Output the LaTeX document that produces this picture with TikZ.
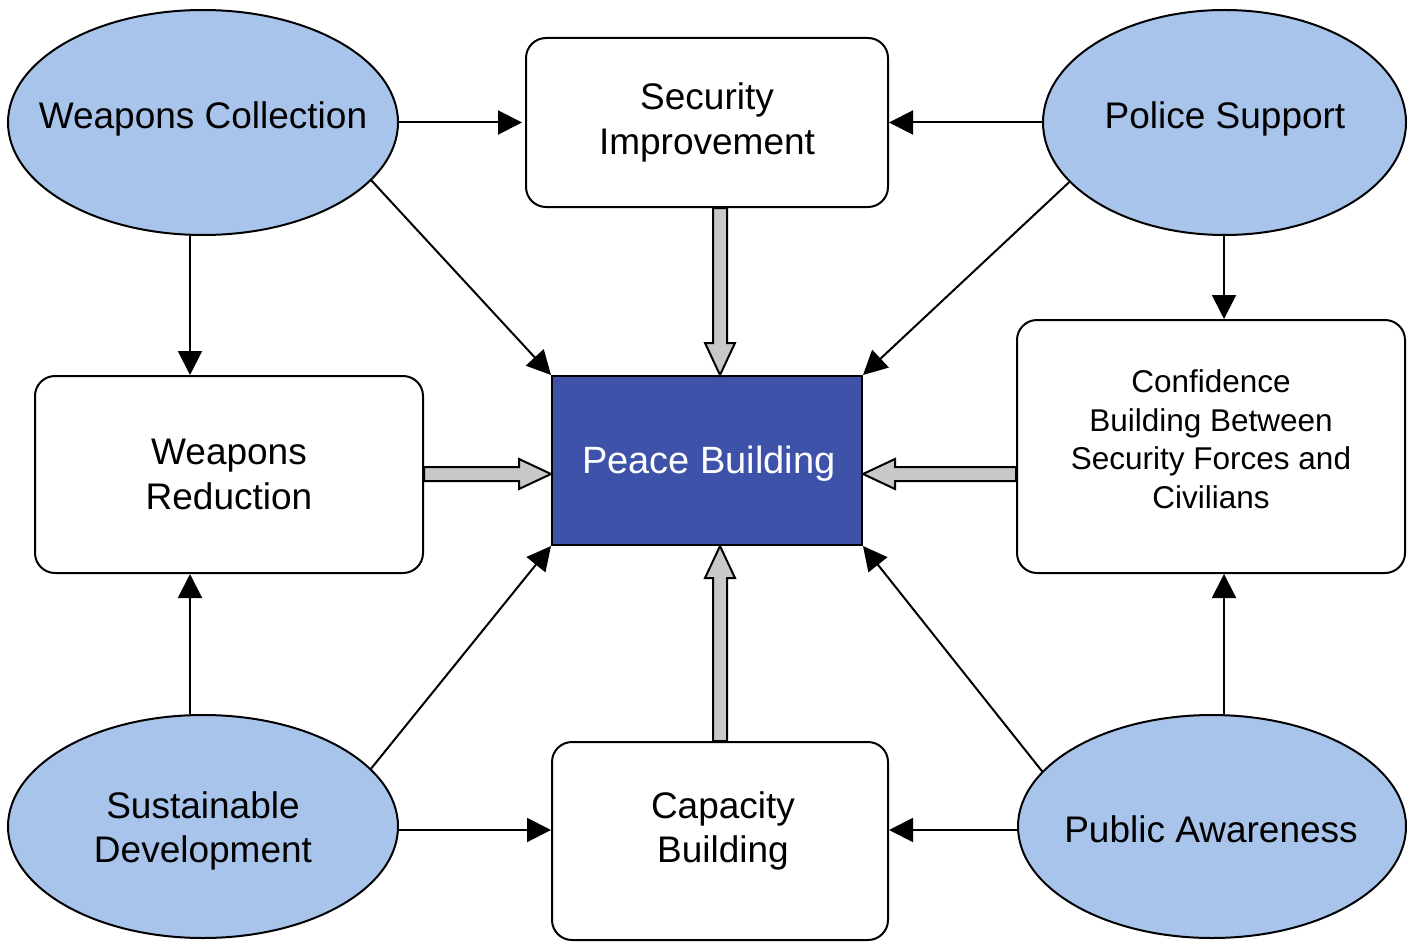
\documentclass[tikz,border=0pt]{standalone}
\usepackage{fontspec}
\setmainfont{Liberation Sans}
\usetikzlibrary{arrows.meta,shapes.geometric,calc}
\definecolor{ellblue}{RGB}{169,196,235}
\definecolor{pbblue}{RGB}{63,82,170}
\definecolor{fatgray}{RGB}{200,200,200}
\newcommand\fatarrow[2]{%
  \path let \p1=(#1), \p2=(#2) in
    \pgfextra{\pgfmathsetmacro\tmpL{veclen(\x2-\x1,\y2-\y1)}%
      \pgfmathsetmacro\tmpA{atan2(\y2-\y1,\x2-\x1)}%
      \xdef\fatlen{\tmpL}\xdef\fatang{\tmpA}};
  \draw[fatarr, shift={(#1)}, rotate=\fatang]
    (0,-7) -- ({\fatlen-32},-7) -- ({\fatlen-32},-15) -- ({\fatlen},0)
    -- ({\fatlen-32},15) -- ({\fatlen-32},7) -- (0,7) -- cycle;}
\tikzset{
  ell/.style={ellipse, draw, line width=2pt, fill=ellblue, inner sep=-60pt, align=center},
  box/.style={rectangle, rounded corners=20pt, draw, line width=2pt, fill=white, align=center, inner sep=0pt},
  arr/.style={line width=2pt, -{Triangle[length=24pt,width=24pt]}},
  fatarr/.style={draw, line width=2pt, fill=fatgray, line join=miter},
  big/.style={font=\fontsize{37}{44.5}\selectfont},
  small/.style={font=\fontsize{31.5}{38.5}\selectfont},
  txt/.style={align=center, inner sep=0pt}
}
\begin{document}
\begin{tikzpicture}[x=1pt,y=-1pt]
\useasboundingbox (0,0) rectangle (1415,944);
% helper coordinates
\coordinate (x190) at (190,0);
\coordinate (x720) at (720,0);
\coordinate (x1224) at (1224,0);
\coordinate (y474) at (0,474);
\coordinate (y830) at (0,830);
% nodes
\node[ell, minimum width=390pt, minimum height=225pt] (WC) at (203,122.5) {};
\node[txt, big] (WCt) at (203,119) {Weapons Collection};
\node[box, big, minimum width=362pt, minimum height=169pt] (SI) at (707,122.5) {Security\\Improvement};
\node[ell, minimum width=363pt, minimum height=225pt] (PS) at (1224.5,122.5) {};
\node[txt, big] (PSt) at (1225,119) {Police Support};
\node[box, big, minimum width=388pt, minimum height=197pt] (WR) at (229,474.5) {Weapons\\Reduction};
\node[rectangle, draw, line width=2pt, fill=pbblue,
      minimum width=310pt, minimum height=169pt] (PB) at (707,460.5) {};
\node[txt, text=white, font=\fontsize{38}{46}\selectfont] (PBt) at (709,464) {Peace Building};
\node[box, minimum width=388pt, minimum height=253pt] (CF) at (1211,446.5) {};
\node[txt, small] (CFt) at (1211,439) {Confidence\\Building Between\\Security Forces and\\Civilians};
\node[ell, minimum width=390pt, minimum height=223pt] (SD) at (203,826.5) {};
\node[txt, big] (SDt) at (203,831) {Sustainable\\Development};
\node[box, minimum width=336pt, minimum height=198pt] (CB) at (720,841) {};
\node[txt, big] (CBt) at (723,831) {Capacity\\Building};
\node[ell, minimum width=388pt, minimum height=223pt] (PA) at (1212,826.5) {};
\node[txt, big] (PAt) at (1211,829) {Public Awareness};
% thin arrows
\draw[arr, shorten >=3pt] (WC.east) -- (SI.west);
\draw[arr] (PS.west) -- (SI.east);
\draw[arr] (WC.south -| x190) -- (WR.north -| x190);
\draw[arr] (PS.south -| x1224) -- (CF.north -| x1224);
\draw[arr] (SD.north -| x190) -- (WR.south -| x190);
\draw[arr] (PA.north -| x1224) -- (CF.south -| x1224);
\draw[arr] (SD.east |- y830) -- (CB.west |- y830);
\draw[arr] (PA.west |- y830) -- (CB.east |- y830);
\draw[arr] (WC.-19) -- (PB.north west);
\draw[arr] (PS.-159) -- (PB.north east);
\draw[arr] (SD.19) -- (PB.south west);
\draw[arr] (PA.162) -- (PB.south east);
% fat arrows
\fatarrow{SI.south -| x720}{PB.north -| x720}
\fatarrow{WR.east |- y474}{PB.west |- y474}
\fatarrow{CF.west |- y474}{PB.east |- y474}
\fatarrow{CB.north -| x720}{PB.south -| x720}
\end{tikzpicture}
\end{document}
